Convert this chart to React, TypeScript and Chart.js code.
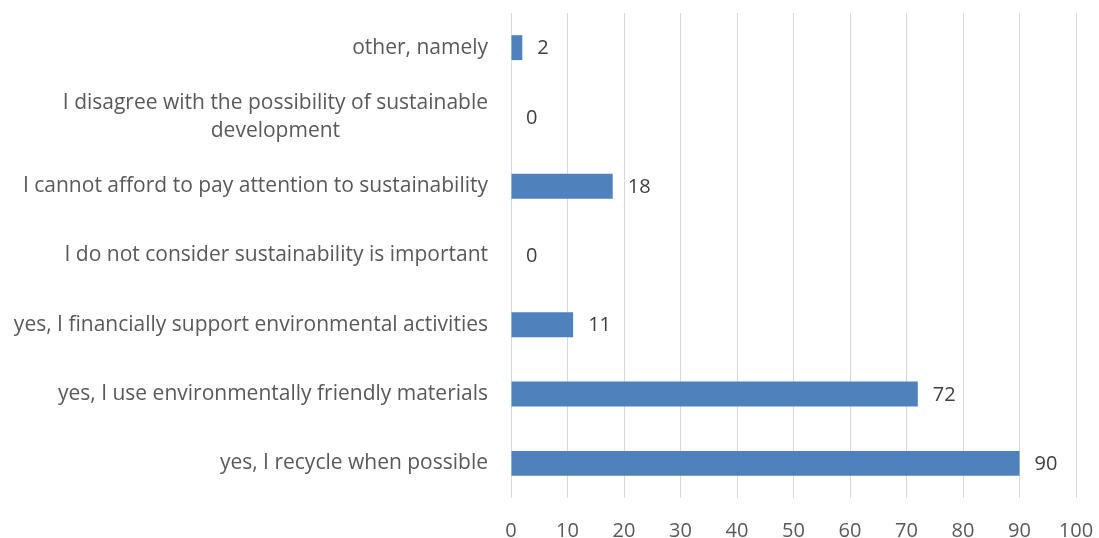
import React, { useEffect, useRef } from "react";
import { Chart, registerables } from "chart.js";

Chart.register(...registerables);

const categories: string[][] = [
  ["other, namely"],
  ["I disagree with the possibility of sustainable", "development"],
  ["I cannot afford to pay attention to sustainability"],
  ["I do not consider sustainability is important"],
  ["yes, I financially support environmental activities"],
  ["yes, I use environmentally friendly materials"],
  ["yes, I recycle when possible"],
];
const values: number[] = [2, 0, 18, 0, 11, 72, 90];
const xMin = 0;
const xMax = 100;
const xStep = 10;

const FONT = "'Open Sans', sans-serif";
const LABEL_SIZE = 21;
const NUM_SIZE = 20;

export default function App() {
  const ref = useRef<HTMLCanvasElement>(null);

  useEffect(() => {
    if (!ref.current) return;
    const labelPlugin = {
      id: "customLabels",
      afterDatasetsDraw(chart: any) {
        const ctx = chart.ctx as CanvasRenderingContext2D;
        const meta = chart.getDatasetMeta(0);
        ctx.save();
        ctx.font = `${NUM_SIZE}px ${FONT}`;
        ctx.fillStyle = "#404040";
        ctx.textBaseline = "middle";
        ctx.textAlign = "left";
        meta.data.forEach((bar: any, i: number) => {
          ctx.fillText(String(values[i]), bar.x + 15, bar.y + 1);
        });
        const yScale = chart.scales.y;
        ctx.font = `${LABEL_SIZE}px ${FONT}`;
        ctx.fillStyle = "#595959";
        ctx.textAlign = "center";
        categories.forEach((lines, i) => {
          const cy = yScale.getPixelForValue(i);
          const maxW = Math.max(...lines.map((l) => ctx.measureText(l).width));
          const right = yScale.right - 23;
          const cx = right - maxW / 2;
          const lh = 28;
          lines.forEach((l, j) => {
            ctx.fillText(l, cx, cy + (j - (lines.length - 1) / 2) * lh);
          });
        });
        ctx.restore();
      },
    };

    const chart = new Chart(ref.current, {
      type: "bar",
      data: {
        labels: categories.map((c) => c.join(" ")),
        datasets: [
          {
            data: values,
            backgroundColor: "#4F81BD",
            borderWidth: 0,
            categoryPercentage: 1,
            barPercentage: 0.36,
          },
        ],
      },
      options: {
        indexAxis: "y",
        responsive: false,
        animation: false,
        layout: { padding: { top: 13, right: 23, bottom: 0, left: 0 } },
        plugins: {
          legend: { display: false },
          tooltip: { enabled: false },
        },
        scales: {
          x: {
            min: xMin,
            max: xMax,
            ticks: {
              stepSize: xStep,
              color: "#595959",
              font: { family: FONT, size: NUM_SIZE },
              padding: 21,
            },
            grid: { color: "#d9d9d9", lineWidth: 1, drawTicks: false },
            border: { display: false },
            afterFit: (scale: any) => {
              scale.height = 40;
              scale.paddingLeft = 0;
              scale.paddingRight = 0;
            },
          },
          y: {
            ticks: { display: false },
            grid: { display: false, drawTicks: false },
            border: { display: false },
            afterFit: (scale: any) => {
              scale.width = 511;
              scale.paddingTop = 0;
              scale.paddingBottom = 0;
            },
          },
        },
      },
      plugins: [labelPlugin],
    });
    return () => chart.destroy();
  }, []);

  return (
    <div style={{ position: "absolute", left: 0, top: 0, width: 1099, height: 538, background: "#fff" }}>
      <canvas ref={ref} width={1099} height={538} style={{ display: "block" }} />
    </div>
  );
}
